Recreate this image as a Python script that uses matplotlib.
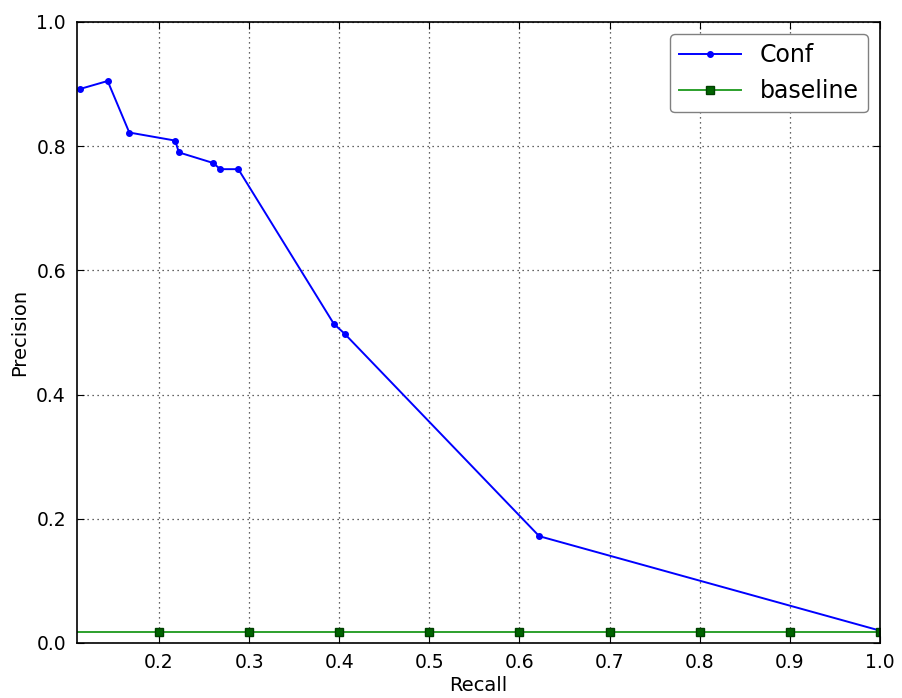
import matplotlib
matplotlib.use("Agg")
import matplotlib.pyplot as plt

# precision / recall points
recall = [0.112, 0.143, 0.167, 0.218, 0.222, 0.260, 0.268, 0.288, 0.394, 0.406, 0.622, 1.0]
precision = [0.892, 0.905, 0.822, 0.809, 0.790, 0.773, 0.763, 0.763, 0.514, 0.498, 0.172, 0.020]

base_recall = [0.1, 0.2, 0.3, 0.4, 0.5, 0.6, 0.7, 0.8, 0.9, 1.0]
base_precision = [0.018] * len(base_recall)

fig = plt.figure(figsize=(9.03, 6.98), dpi=100)
ax = fig.add_axes([0.0853, 0.0788, 0.889, 0.8897])

ax.plot(recall, precision, color="#0000ff", marker="o", markersize=4,
        linewidth=1.4, label="Conf")
ax.plot(base_recall, base_precision, color="#2ca02c", marker="s", markersize=6,
        markerfacecolor="#006400", markeredgecolor="#004000", linewidth=1.4,
        label="baseline")

ax.set_xlim(0.109, 1.0)
ax.set_ylim(0.0, 1.0)
ax.set_xticks([0.2, 0.3, 0.4, 0.5, 0.6, 0.7, 0.8, 0.9, 1.0])
ax.set_yticks([0.0, 0.2, 0.4, 0.6, 0.8, 1.0])
ax.grid(True, color="#333333", linestyle=(0, (1, 3)), linewidth=0.9)
ax.tick_params(direction="in", length=5, labelsize=13.5, top=True, right=True)
ax.tick_params(axis="x", pad=7)
ax.tick_params(axis="y", pad=8)
for s in ax.spines.values():
    s.set_linewidth(1.2)

ax.set_xlabel("Recall", fontsize=14, labelpad=3)
ax.set_ylabel("Precision", fontsize=14, labelpad=5)

leg = ax.legend(loc="upper right", fontsize=17, fancybox=True, framealpha=1,
                borderpad=0.4, handlelength=2.6)
leg.get_frame().set_edgecolor("gray")

fig.savefig("out.png", dpi=100)
